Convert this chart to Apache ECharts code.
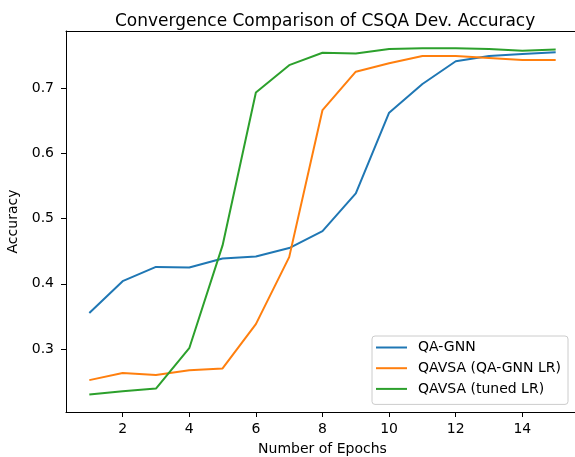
<!DOCTYPE html>
<html>
<head>
<meta charset="utf-8">
<script src="https://cdn.jsdelivr.net/npm/echarts@6/dist/echarts.min.js"></script>
<style>html,body{margin:0;padding:0;background:#fff}#c{width:575px;height:457px}</style>
</head>
<body>
<div id="c"></div>
<script>
const epochs = [1,2,3,4,5,6,7,8,9,10,11,12,13,14,15];
const qaGnn = [0.355,0.404,0.426,0.425,0.439,0.442,0.455,0.481,0.539,0.663,0.707,0.742,0.750,0.753,0.756];
const qavsaQaGnnLr = [0.252,0.263,0.260,0.267,0.270,0.338,0.441,0.667,0.726,0.739,0.750,0.750,0.747,0.744,0.744];
const qavsaTunedLr = [0.230,0.235,0.239,0.301,0.459,0.694,0.736,0.755,0.754,0.761,0.762,0.762,0.761,0.758,0.760];
const xTicks = [2,4,6,8,10,12,14];
const yTicks = [0.3,0.4,0.5,0.6,0.7];
const seriesNames = ['QA-GNN','QAVSA (QA-GNN LR)','QAVSA (tuned LR)'];
const colors = ['#1f77b4','#ff7f0e','#2ca02c'];

const font = 'DejaVu Sans';
const pair = (ys) => epochs.map((x,i)=>[x, ys[i]]);
const axisBase = {type:'value', min:0.3, max:15.7, splitLine:{show:false}};
const chart = echarts.init(document.getElementById('c'), null, {renderer:'canvas'});
chart.setOption({
  animation:false,
  backgroundColor:'#fff',
  title:{text:'Convergence Comparison of CSQA Dev. Accuracy', left:110, top:8,
    textStyle:{fontFamily:font, fontSize:17, fontWeight:'normal', color:'#000'}},
  grid:{left:66, top:31, width:513, height:381, show:false, containLabel:false, outerBoundsMode:'none'},
  xAxis:[
    Object.assign({}, axisBase, {position:'bottom', name:'Number of Epochs', nameLocation:'middle', nameGap:30,
      nameTextStyle:{fontFamily:font, fontSize:14, color:'#000'},
      axisLine:{show:true, onZero:false, lineStyle:{color:'#000', width:1}},
      axisTick:{show:true, inside:false, length:5, lineStyle:{color:'#000'}, customValues:xTicks},
      axisLabel:{fontFamily:font, fontSize:14, color:'#000', margin:10, customValues:xTicks}}),
    Object.assign({}, axisBase, {position:'top',
      axisLine:{show:true, onZero:false, lineStyle:{color:'#000', width:1}},
      axisTick:{show:false}, axisLabel:{show:false}})
  ],
  yAxis:{type:'value', min:0.203, max:0.7885, name:'Accuracy', nameLocation:'middle', nameGap:38,
    nameTextStyle:{fontFamily:font, fontSize:14, color:'#000'},
    splitLine:{show:false},
    axisLine:{show:true, onZero:false, lineStyle:{color:'#000', width:1}},
    axisTick:{show:true, inside:false, length:5, lineStyle:{color:'#000'}, customValues:yTicks},
    axisLabel:{fontFamily:font, fontSize:14, color:'#000', margin:12, customValues:yTicks, formatter:v=>v.toFixed(1)}},
  legend:{orient:'vertical', left:372, top:336, data:seriesNames,
    backgroundColor:'rgba(255,255,255,0.8)', borderColor:'#ccc', borderWidth:1, borderRadius:3,
    padding:[4,7,8,4], itemGap:5.7, itemWidth:31, itemHeight:2, itemStyle:{borderWidth:0},
    icon:'rect', textStyle:{fontFamily:font, fontSize:14, color:'#000', lineHeight:15, padding:[0,0,0,6]}},
  series:[qaGnn, qavsaQaGnnLr, qavsaTunedLr].map((ys,i)=>({
    name:seriesNames[i], type:'line', xAxisIndex:0, data:pair(ys), showSymbol:false, symbol:'none',
    lineStyle:{color:colors[i], width:2}, itemStyle:{color:colors[i]}, z:2+i
  }))
});
</script>
</body>
</html>
